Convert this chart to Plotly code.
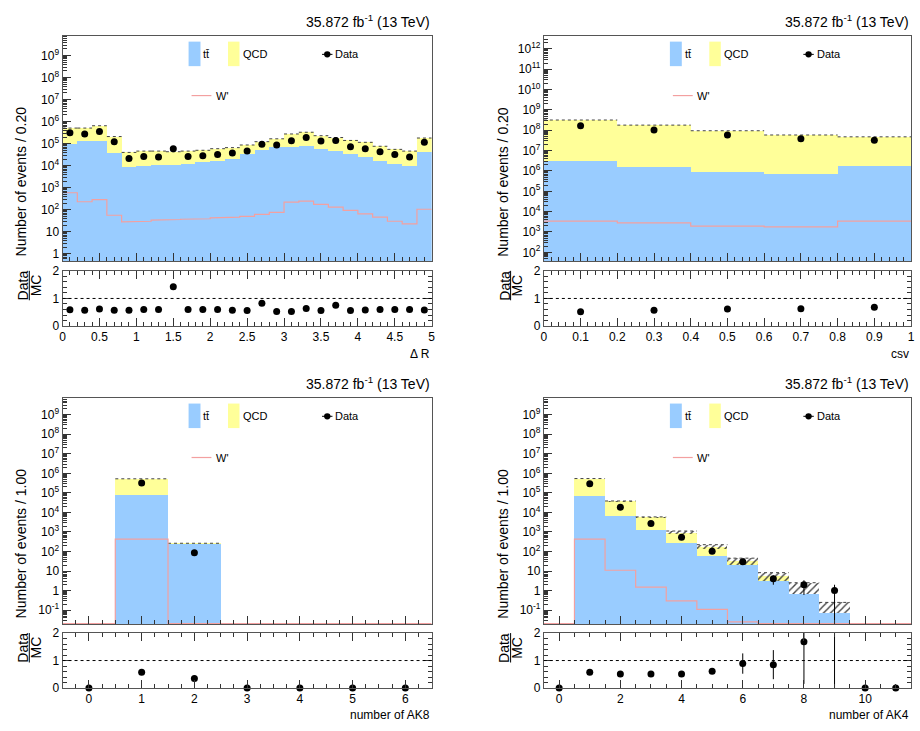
import plotly.graph_objects as go

# ======================= DATA =======================
# Panel 1: Delta R (bin width 0.20)
dr_centers = [0.1, 0.3, 0.5, 0.7, 0.9, 1.1, 1.3, 1.5, 1.7, 1.9, 2.1, 2.3, 2.5,
              2.7, 2.9, 3.1, 3.3, 3.5, 3.7, 3.9, 4.1, 4.3, 4.5, 4.7, 4.9]
dr_tt = [9.3e4, 1.3e5, 1.3e5, 3.7e4, 8.5e3, 1.0e4, 1.07e4, 1.1e4, 1.2e4, 1.4e4,
         1.7e4, 2.1e4, 3.5e4, 5.2e4, 7.3e4, 7.1e4, 7.6e4, 5.9e4, 4.7e4, 3.3e4,
         2.5e4, 1.7e4, 1.2e4, 9.4e3, 4.1e4]
dr_qcd = [4.17e5, 3.8e5, 5.2e5, 1.73e5, 3.15e4, 3.6e4, 3.53e4, 3.2e4, 3.4e4, 3.6e4,
          4.2e4, 4.5e4, 5.2e4, 7.1e4, 9.3e4, 2.04e5, 2.54e5, 1.71e5, 1.43e5, 1.07e5,
          9.0e4, 5.9e4, 4.3e4, 3.66e4, 1.39e5]
dr_data = [3.1e5, 2.75e5, 3.6e5, 1.23e5, 2.1e4, 2.6e4, 2.45e4, 5.8e4, 2.6e4, 2.8e4,
           3.2e4, 3.8e4, 4.7e4, 9.5e4, 8.7e4, 1.35e5, 1.9e5, 1.32e5, 1.4e5, 7.2e4,
           5.8e4, 4.3e4, 3.2e4, 2.45e4, 1.15e5]
dr_wprime = [590, 230, 290, 56, 28, 30, 34, 36, 37, 39, 43, 46, 50, 62, 76, 220,
             245, 174, 132, 93, 65, 46, 30, 23, 105]
dr_ratio = [0.59, 0.57, 0.62, 0.57, 0.57, 0.60, 0.60, 1.42, 0.60, 0.60, 0.60, 0.57,
            0.56, 0.83, 0.53, 0.53, 0.64, 0.56, 0.75, 0.56, 0.58, 0.60, 0.60, 0.60, 0.58]

# Panel 2: csv (bin width 0.20)
csv_centers = [0.1, 0.3, 0.5, 0.7, 0.9]
csv_tt = [3.2e6, 1.6e6, 9.3e5, 7.4e5, 1.7e6]
csv_qcd = [3.17e8, 1.78e8, 9.4e7, 5.8e7, 4.6e7]
csv_data = [1.66e8, 1.02e8, 5.8e7, 3.8e7, 3.2e7]
csv_wprime = [3400, 2800, 1950, 1780, 3400]
csv_ratio = [0.52, 0.57, 0.62, 0.63, 0.68]

# Panel 3: number of AK8 (bin width 1.00)
ak8_centers = [0, 1, 2, 3, 4, 5, 6]
ak8_tt = [0, 7.4e4, 245, 0, 0, 0, 0]
ak8_qcd = [0, 4.5e5, 20, 0, 0, 0, 0]
ak8_data = [0, 3.2e5, 87, 0, 0, 0, 0]
ak8_wprime = [0, 430, 0, 0, 0, 0, 0]
ak8_ratio = [0, 0.57, 0.35, 0, 0, 0, 0]

# Panel 4: number of AK4 (bin width 1.00)
ak4_centers = [0, 1, 2, 3, 4, 5, 6, 7, 8, 9, 10, 11]
ak4_tt = [0, 6.9e4, 6.8e3, 1.26e3, 270, 60, 20, 3.2, 0.635, 0.073, 0, 0]
ak4_qcd = [0, 4.56e5, 3.0e4, 4.3e3, 670, 120, 12, 2.5, 0, 0, 0, 0]
ak4_unc_lo = [0, 5.1e5, 3.55e4, 5.3e3, 760, 134, 20.4, 3.2, 0.635, 0.073, 0, 0]
ak4_unc_hi = [0, 5.4e5, 3.85e4, 5.9e3, 1120, 224, 45.7, 8.3, 2.54, 0.25, 0, 0]
ak4_data = [0, 2.95e5, 1.86e4, 2.7e3, 537, 102, 30, 4, 2, 1, 0, 0]
ak4_data_err = [0, 540, 136, 52, 23, 10, 5.5, 2, 1.4, 1, 0, 0]
ak4_wprime = [0, 430, 11, 1.5, 0.3, 0.11, 0.025, 0, 0, 0, 0, 0]
ak4_ratio = [0, 0.57, 0.51, 0.51, 0.51, 0.61, 0.89, 0.85, 1.68, 6.2, 0, 0]
ak4_ratio_err = [0, 0.01, 0.01, 0.02, 0.03, 0.08, 0.37, 0.53, 1.53, 6.2, 0, 0]

# Tick labels
dr_yvals = [1, 10, 1e2, 1e3, 1e4, 1e5, 1e6, 1e7, 1e8, 1e9]
dr_ylabels = ["1", "10", "10<sup>2</sup>", "10<sup>3</sup>", "10<sup>4</sup>",
              "10<sup>5</sup>", "10<sup>6</sup>", "10<sup>7</sup>", "10<sup>8</sup>",
              "10<sup>9</sup>"]
csv_yvals = [1e2, 1e3, 1e4, 1e5, 1e6, 1e7, 1e8, 1e9, 1e10, 1e11, 1e12]
csv_ylabels = ["10<sup>2</sup>", "10<sup>3</sup>", "10<sup>4</sup>", "10<sup>5</sup>",
               "10<sup>6</sup>", "10<sup>7</sup>", "10<sup>8</sup>", "10<sup>9</sup>",
               "10<sup>10</sup>", "10<sup>11</sup>", "10<sup>12</sup>"]
nj_yvals = [0.1, 1, 10, 1e2, 1e3, 1e4, 1e5, 1e6, 1e7, 1e8, 1e9]
nj_ylabels = ["10<sup>-1</sup>", "1", "10", "10<sup>2</sup>", "10<sup>3</sup>",
              "10<sup>4</sup>", "10<sup>5</sup>", "10<sup>6</sup>", "10<sup>7</sup>",
              "10<sup>8</sup>", "10<sup>9</sup>"]

# ======================= STYLE =======================
W, H = 920, 731
FONT = "Liberation Sans, Arial, Helvetica, sans-serif"
C_TT = "#99ccff"
C_QCD = "#ffff99"
C_WP = "#f3a0a0"
FRAME = "#555555"
LUMI = "35.872 fb<sup>-1</sup> (13 TeV)"

LEFT = (60, 432)
RIGHT = (545, 915)
TOP_MAIN = (29.3, 259)
TOP_RATIO = (269, 325.3)
BOT_MAIN = (398.3, 629.3)
BOT_RATIO = (638.3, 694.3)


def px(x):
    return x / W


def py(y):
    return 1 - y / H


def ax_ref(n, k):
    return k if n == 1 else f"{k}{n}"


def ax_key(n, k):
    return f"{k}axis" if n == 1 else f"{k}axis{n}"


fig = go.Figure()
annotations = []
shapes = []


def minor_log(lo, hi):
    vals = []
    for e in range(lo, hi + 1):
        for m in range(2, 10):
            vals.append(m * 10 ** e)
    return vals


def add_panel(n, xs, ymain, yrat, centers, width, tt, qcd, data, wp, ratio,
              xr, yr, yvals, ylabels, xdtick, xminor, xtitle, ytitle,
              data_err=None, ratio_err=None, unc_lo=None, unc_hi=None):
    nm, nr = 2 * n - 1, 2 * n
    xm, ym = ax_ref(nm, "x"), ax_ref(nm, "y")
    xq, yq = ax_ref(nr, "x"), ax_ref(nr, "y")
    nb = len(centers)
    common = dict(showlegend=False, hoverinfo="skip")

    tt_p = [v if v > 0 else None for v in tt]
    qcd_p = [v if v > 0 else None for v in qcd]
    fig.add_bar(x=centers, y=tt_p, width=[width] * nb, xaxis=xm, yaxis=ym,
                marker=dict(color=C_TT, line=dict(width=0)), **common)
    fig.add_bar(x=centers, y=qcd_p, base=tt, width=[width] * nb, xaxis=xm, yaxis=ym,
                marker=dict(color=C_QCD, line=dict(width=0)), **common)

    if unc_lo is not None:
        bx, bb, bh = [], [], []
        for c, lo, hi in zip(centers, unc_lo, unc_hi):
            if hi > 0:
                bx.append(c)
                bb.append(lo)
                bh.append(hi - lo)
        fig.add_bar(x=bx, y=bh, base=bb, width=[width] * len(bx), xaxis=xm, yaxis=ym,
                    marker=dict(color="rgba(0,0,0,0)", line=dict(width=0),
                                pattern=dict(shape="/", fgcolor="#444444",
                                             bgcolor="rgba(0,0,0,0)", size=5,
                                             solidity=0.28, fillmode="replace")),
                    **common)
        tops = unc_hi
    else:
        tops = [a + b for a, b in zip(tt, qcd)]

    # dotted top of the stack
    lx, ly = [], []
    for c, t in zip(centers, tops):
        if t > 0:
            lx += [c - width / 2, c + width / 2, None]
            ly += [t, t, None]
    fig.add_scatter(x=lx, y=ly, mode="lines", xaxis=xm, yaxis=ym,
                    line=dict(color="#444444", width=1, dash="dot"), **common)

    # W' step line (zero bins drawn at the frame bottom, as ROOT does)
    floor = 10 ** (yr[0] + 0.03)
    sx, sy = [], []
    for c, v in zip(centers, wp):
        vv = v if v > 0 else floor
        sx += [c - width / 2, c + width / 2]
        sy += [vv, vv]
    fig.add_scatter(x=sx, y=sy, mode="lines", xaxis=xm, yaxis=ym,
                    line=dict(color=C_WP, width=1.2), **common)

    # data points
    dx, dy, de, dem = [], [], [], []
    for i, (c, d) in enumerate(zip(centers, data)):
        if d > 0:
            e = data_err[i] if data_err else 0
            dx.append(c)
            dy.append(d)
            de.append(e)
            dem.append(min(e, d * 0.999))
    fig.add_scatter(x=dx, y=dy, mode="markers", xaxis=xm, yaxis=ym,
                    marker=dict(color="black", size=7),
                    error_y=dict(type="data", array=de, arrayminus=dem, color="black",
                                 thickness=1, width=0, visible=bool(data_err)),
                    **common)

    # ratio
    if ratio_err:
        fig.add_scatter(x=centers, y=ratio, mode="markers", xaxis=xq, yaxis=yq,
                        marker=dict(color="rgba(0,0,0,0)", size=1),
                        error_y=dict(type="data", array=ratio_err, color="black",
                                     thickness=1, width=0), **common)
    rx = [c for c, r in zip(centers, ratio) if r <= 2]
    ry = [r for r in ratio if r <= 2]
    fig.add_scatter(x=rx, y=ry, mode="markers", xaxis=xq, yaxis=yq, cliponaxis=False,
                    marker=dict(color="black", size=7), **common)
    shapes.append(dict(type="line", xref=f"{xq} domain", yref=yq, x0=0, x1=1, y0=1, y1=1,
                       line=dict(color="black", width=1, dash="dot")))

    tickfont = dict(family=FONT, size=12, color="black")
    xdom = [px(xs[0]), px(xs[1])]
    fig.layout[ax_key(nm, "x")] = dict(
        domain=xdom, anchor=ym, range=xr, showticklabels=False, ticks="inside",
        ticklen=8, tickcolor="#333", tick0=0, dtick=xdtick,
        minor=dict(ticks="inside", ticklen=4, tick0=0, dtick=xminor, tickcolor="#333"),
        showline=True, mirror=True, linecolor=FRAME, showgrid=False, zeroline=False)
    fig.layout[ax_key(nm, "y")] = dict(
        domain=[py(ymain[1]), py(ymain[0])], anchor=xm, type="log", range=yr,
        tickmode="array", tickvals=yvals, ticktext=ylabels, ticks="inside", ticklen=8,
        tickcolor="#333", tickfont=tickfont,
        minor=dict(ticks="inside", ticklen=4, tickvals=minor_log(-3, 13), tickcolor="#333"),
        showline=True, mirror=True, linecolor=FRAME, showgrid=False, zeroline=False)
    fig.layout[ax_key(nr, "x")] = dict(
        domain=xdom, anchor=yq, range=xr, showticklabels=True, ticks="inside",
        ticklen=8, tickcolor="#333", tick0=0, dtick=xdtick, tickfont=tickfont,
        minor=dict(ticks="inside", ticklen=4, tick0=0, dtick=xminor, tickcolor="#333"),
        showline=True, mirror="allticks", linecolor=FRAME, showgrid=False, zeroline=False)
    fig.layout[ax_key(nr, "y")] = dict(
        domain=[py(yrat[1]), py(yrat[0])], anchor=xq, range=[0, 2],
        tickmode="array", tickvals=[0, 1, 2], ticktext=["0", "1", "2"], ticks="inside",
        ticklen=8, tickcolor="#333", tickfont=tickfont,
        minor=dict(ticks="inside", ticklen=4, tick0=0, dtick=0.2, tickcolor="#333"),
        showline=True, mirror="allticks", linecolor=FRAME, showgrid=False, zeroline=False)

    # texts
    x0, x1 = xs
    y0 = ymain[0]
    annotations.append(dict(text=LUMI, xref="paper", yref="paper", x=px(x1), y=py(y0 - 3.5),
                            xanchor="right", yanchor="bottom", showarrow=False,
                            font=dict(family=FONT, size=14, color="black")))
    annotations.append(dict(text=ytitle, xref="paper", yref="paper",
                            x=px(x0 - 42), y=py((ymain[0] + 178 - 29.3)), textangle=-90,
                            xanchor="center", yanchor="middle", showarrow=False,
                            font=dict(family=FONT, size=14, color="black")))
    ry0 = yrat[0]
    annotations.append(dict(text="Data", xref="paper", yref="paper", x=px(x0 - 40),
                            y=py(ry0 + 15), textangle=-90, showarrow=False,
                            xanchor="center", yanchor="middle",
                            font=dict(family=FONT, size=14, color="black")))
    annotations.append(dict(text="MC", xref="paper", yref="paper", x=px(x0 - 27),
                            y=py(ry0 + 15), textangle=-90, showarrow=False,
                            xanchor="center", yanchor="middle",
                            font=dict(family=FONT, size=14, color="black")))
    shapes.append(dict(type="line", xref="paper", yref="paper", x0=px(x0 - 33.5), x1=px(x0 - 33.5),
                       y0=py(ry0 + 0), y1=py(ry0 + 30), line=dict(color="black", width=1)))
    annotations.append(dict(text=xtitle, xref="paper", yref="paper", x=px(x1),
                            y=py(yrat[1] + 28), xanchor="right", yanchor="middle",
                            showarrow=False, font=dict(family=FONT, size=12, color="black")))

    # legend (ROOT style, drawn by hand)
    lf = dict(family=FONT, size=11, color="black")
    shapes.append(dict(type="rect", xref="paper", yref="paper", x0=px(x0 + 127), x1=px(x0 + 139),
                       y0=py(y0 + 31), y1=py(y0 + 6), fillcolor=C_TT, line=dict(width=0)))
    annotations.append(dict(text="tt\u0304", xref="paper", yref="paper", x=px(x0 + 140),
                            y=py(y0 + 19), xanchor="left", yanchor="middle", showarrow=False,
                            font=lf))
    shapes.append(dict(type="rect", xref="paper", yref="paper", x0=px(x0 + 166.7), x1=px(x0 + 178.3),
                       y0=py(y0 + 31), y1=py(y0 + 6), fillcolor=C_QCD, line=dict(width=0)))
    annotations.append(dict(text="QCD", xref="paper", yref="paper", x=px(x0 + 179.5),
                            y=py(y0 + 19), xanchor="left", yanchor="middle", showarrow=False,
                            font=lf))
    shapes.append(dict(type="line", xref="paper", yref="paper", x0=px(x0 + 261.5), x1=px(x0 + 272),
                       y0=py(y0 + 19), y1=py(y0 + 19), line=dict(color="black", width=1)))
    shapes.append(dict(type="circle", xref="paper", yref="paper", x0=px(x0 + 263.5), x1=px(x0 + 270),
                       y0=py(y0 + 22.2), y1=py(y0 + 15.8), fillcolor="black", line=dict(width=0)))
    annotations.append(dict(text="Data", xref="paper", yref="paper", x=px(x0 + 273),
                            y=py(y0 + 19), xanchor="left", yanchor="middle", showarrow=False,
                            font=lf))
    shapes.append(dict(type="line", xref="paper", yref="paper", x0=px(x0 + 130), x1=px(x0 + 150),
                       y0=py(y0 + 61), y1=py(y0 + 61), line=dict(color=C_WP, width=1.2)))
    annotations.append(dict(text="W'", xref="paper", yref="paper", x=px(x0 + 152.5),
                            y=py(y0 + 61), xanchor="left", yanchor="middle", showarrow=False,
                            font=lf))


add_panel(1, LEFT, TOP_MAIN, TOP_RATIO, dr_centers, 0.2, dr_tt, dr_qcd, dr_data,
          dr_wprime, dr_ratio, [0, 5], [-0.33, 9.9], dr_yvals, dr_ylabels, 0.5, 0.1,
          "\u0394 R", "Number of events / 0.20")
add_panel(2, RIGHT, TOP_MAIN, TOP_RATIO, csv_centers, 0.2, csv_tt, csv_qcd, csv_data,
          csv_wprime, csv_ratio, [0, 1], [1.57, 12.65], csv_yvals, csv_ylabels, 0.1, 0.02,
          "csv", "Number of events / 0.20")
add_panel(3, LEFT, BOT_MAIN, BOT_RATIO, ak8_centers, 1.0, ak8_tt, ak8_qcd, ak8_data,
          ak8_wprime, ak8_ratio, [-0.5, 6.5], [-1.72, 9.87], nj_yvals, nj_ylabels, 1, 0.25,
          "number of AK8", "Number of events / 1.00")
add_panel(4, RIGHT, BOT_MAIN, BOT_RATIO, ak4_centers, 1.0, ak4_tt, ak4_qcd, ak4_data,
          ak4_wprime, ak4_ratio, [-0.5, 11.5], [-1.72, 9.87], nj_yvals, nj_ylabels, 2, 0.5,
          "number of AK4", "Number of events / 1.00",
          data_err=ak4_data_err, ratio_err=ak4_ratio_err,
          unc_lo=ak4_unc_lo, unc_hi=ak4_unc_hi)

fig.update_layout(
    width=W, height=H, autosize=False,
    margin=dict(l=0, r=0, t=0, b=0),
    paper_bgcolor="white", plot_bgcolor="white",
    barmode="overlay", bargap=0,
    font=dict(family=FONT, size=12, color="black"),
    annotations=annotations, shapes=shapes, showlegend=False,
)

fig.write_html("out.html",
               config={"displayModeBar": False, "staticPlot": True},
               post_script="document.body.style.margin='0px';"
                           "document.body.style.overflow='hidden';")
